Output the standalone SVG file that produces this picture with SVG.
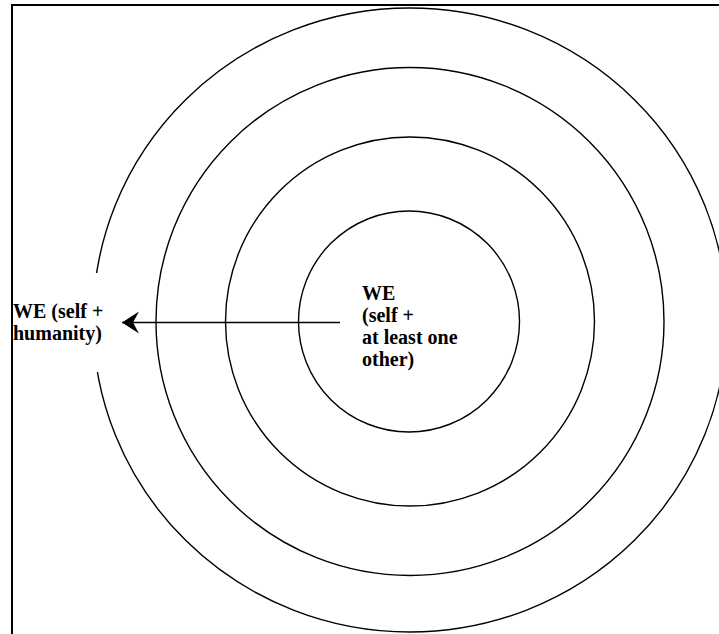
<svg xmlns="http://www.w3.org/2000/svg" width="719" height="634" viewBox="0 0 719 634">
<style>
.ring{fill:none;stroke:#000;stroke-width:1.4}
.lbl{font-weight:bold;font-size:20px;fill:#000}
</style>
<defs>
<marker id="ah" markerUnits="userSpaceOnUse" markerWidth="20" markerHeight="24" refX="19" refY="12" orient="auto" viewBox="0 0 20 24">
<path d="M19,12 L2,1 L8,12 L2,23 Z" fill="#000"/>
</marker>
</defs>
<rect width="719" height="634" fill="#fff"/>
<rect x="12" y="5" width="730" height="660" fill="none" stroke="#000" stroke-width="2"/>
<g id="ring-outer"><ellipse class="ring" cx="410" cy="320" rx="317" ry="312"/></g>
<g id="ring-2"><circle class="ring" cx="410" cy="321.5" r="254"/></g>
<g id="ring-3"><circle class="ring" cx="410" cy="321.5" r="184.5"/></g>
<g id="ring-inner"><circle class="ring" cx="409" cy="321.5" r="110.5"/></g>
<g id="label-we-humanity" font-family="Liberation Serif, Times New Roman, serif">
<rect x="14" y="273" width="92" height="99" fill="#fff"/>
<text class="lbl" x="13" y="318">WE (self +</text>
<text class="lbl" x="13" y="340">humanity)</text>
</g>
<g id="label-we-other" font-family="Liberation Serif, Times New Roman, serif">
<text class="lbl" x="362" y="300">WE</text>
<text class="lbl" x="362" y="322">(self +</text>
<text class="lbl" x="362" y="344">at least one</text>
<text class="lbl" x="362" y="366">other)</text>
</g>
<g id="connectors">
<line x1="340" y1="322.5" x2="122" y2="322.5" stroke="#000" stroke-width="1.4" marker-end="url(#ah)"/>
</g>
</svg>
